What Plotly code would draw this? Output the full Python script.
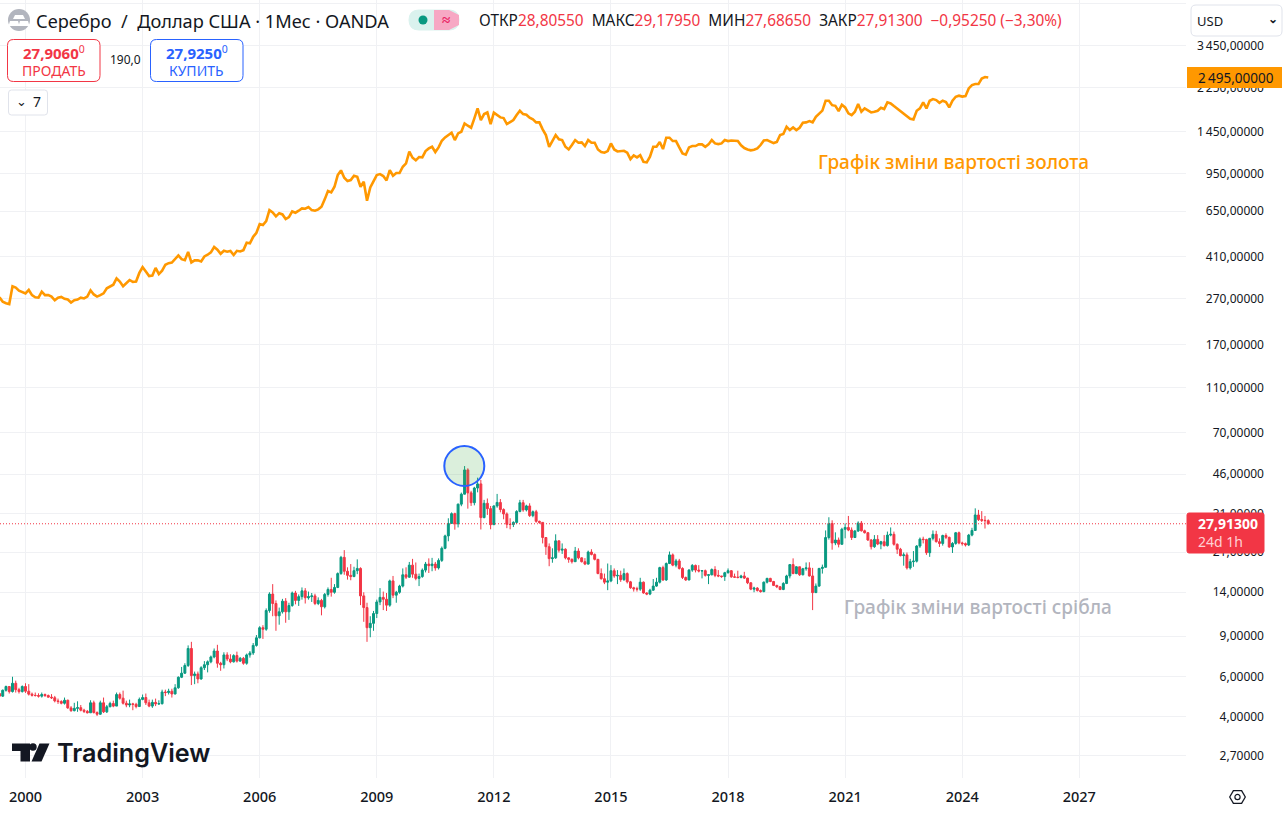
import plotly.graph_objects as go

# ---------- values (monthly bars, May 1999 - Sep 2024) ----------
silver_first_open = 5.05
silver_close = [
    4.92,5.22,5.42,5.15,5.6,5.25,5.15,5.42,
    5.17,5.02,4.96,4.95,4.92,5.0,4.95,4.87,4.84,4.69,4.66,4.58,
    4.72,4.37,4.25,4.35,4.38,4.27,4.22,4.16,4.6,4.17,4.1,4.6,
    4.2,4.42,4.57,4.45,5.0,4.82,4.58,4.5,4.55,4.53,4.43,4.76,
    4.85,4.6,4.45,4.62,4.55,4.56,5.13,5.1,5.17,5.03,5.35,5.95,
    6.2,6.7,7.95,6.05,6.15,5.85,6.55,6.75,6.95,7.3,7.75,6.85,
    6.75,7.45,7.15,6.95,7.4,7.0,7.2,6.85,7.45,7.6,8.2,8.85,
    9.8,9.65,11.65,13.75,12.5,11.05,11.5,12.8,11.5,12.25,13.9,12.9,
    13.4,14.2,13.25,13.4,13.5,12.5,12.9,12.1,13.7,14.4,14.0,14.7,
    16.9,19.9,17.3,16.6,16.4,17.4,17.8,13.5,12.0,9.8,10.24,11.3,
    12.7,13.3,13.05,12.3,15.7,13.6,14.0,14.9,16.7,16.3,18.4,16.8,
    16.1,16.4,17.5,18.6,18.3,18.6,17.9,19.3,21.8,24.7,28.0,30.9,
    27.9,34.0,37.6,48.0,38.1,34.5,40.0,41.7,29.7,34.3,32.5,27.65,
    33.4,34.6,32.2,30.8,27.75,27.7,28.3,31.6,34.5,32.1,33.4,30.3,
    31.5,28.6,28.3,24.3,22.15,19.65,19.8,23.5,21.4,21.6,19.8,19.5,
    19.05,21.2,19.8,19.05,18.6,21.0,20.5,19.5,16.9,16.05,15.5,15.7,
    17.4,16.5,16.6,15.9,16.9,15.55,14.65,14.5,14.45,15.5,13.9,13.75,
    14.3,14.9,15.5,17.95,15.85,18.7,20.4,18.4,19.2,17.8,16.25,15.85,
    17.5,18.35,17.5,17.35,17.4,16.6,16.7,17.6,16.6,16.5,16.4,17.05,
    17.4,16.35,16.3,16.25,16.5,16.15,15.4,14.45,14.6,14.25,14.1,15.5,
    16.1,15.6,15.0,14.8,14.4,15.3,16.5,18.5,16.9,18.1,16.7,17.75,
    17.9,16.5,13.95,14.9,17.8,18.0,24.3,28.0,23.0,23.7,22.7,26.4,
    26.9,26.2,24.3,25.95,28.1,26.0,25.5,23.7,22.15,23.85,22.75,23.3,
    22.4,24.9,25.1,22.7,21.6,20.25,20.4,17.9,19.05,19.15,22.3,23.9,
    23.8,20.85,24.1,25.1,23.3,22.9,24.8,24.35,22.1,22.9,25.5,23.0,
    22.85,22.55,24.9,26.1,30.5,29.1,28.9,28.8055,27.913,
]
silver_high = [
    5.1,5.26,5.47,5.45,5.98,5.75,5.35,5.48,
    5.6,5.55,5.1,5.1,5.06,5.1,5.05,5.0,5.02,4.93,4.8,4.72,
    4.85,4.75,4.45,4.6,4.67,4.5,4.33,4.28,4.72,4.7,4.22,4.7,
    4.85,4.5,4.65,4.7,5.1,5.1,5.2,4.7,4.75,4.6,4.6,4.85,
    5.0,5.05,4.75,4.75,4.8,4.72,5.25,5.25,5.3,5.3,5.55,6.0,
    6.6,6.85,8.2,8.5,6.3,6.3,6.65,7.0,7.05,7.4,7.95,8.25,
    6.95,7.65,7.65,7.5,7.5,7.7,7.3,7.3,7.55,7.75,8.4,9.1,
    9.95,10.05,11.9,14.0,15.2,12.9,12.0,13.1,13.2,12.6,14.1,14.2,
    13.7,14.7,14.6,14.1,13.9,13.8,13.3,13.1,13.9,14.7,16.2,15.2,
    17.1,20.2,21.4,18.0,18.6,18.1,19.5,18.0,14.0,12.6,11.0,11.6,
    13.0,14.6,14.1,13.9,15.9,16.5,14.2,15.1,17.8,18.0,19.0,19.6,
    18.9,16.9,17.8,19.0,19.7,19.8,19.0,19.7,22.2,25.0,29.5,31.3,
    31.2,34.2,38.2,49.9,48.8,38.9,40.5,44.4,43.4,35.5,36.0,33.4,
    33.6,37.7,35.8,32.6,31.3,29.5,28.6,32.0,35.5,35.5,33.8,34.3,
    31.9,32.1,28.8,28.4,24.4,22.9,21.8,25.1,23.6,22.9,21.8,19.9,
    19.7,22.1,21.8,19.9,19.75,21.3,21.6,20.7,19.6,17.8,16.9,18.7,
    18.4,17.8,17.5,17.4,17.8,17.1,15.7,14.8,14.8,16.2,15.6,14.0,
    14.5,16.0,16.2,18.1,18.3,18.9,21.1,20.7,19.6,19.6,18.0,16.4,
    17.7,18.6,18.5,18.4,17.5,17.6,16.8,17.8,18.2,17.5,16.5,17.2,
    17.8,17.5,16.9,17.4,16.7,17.2,16.2,15.5,14.8,14.75,14.4,15.6,
    16.2,16.2,15.7,15.1,14.9,15.5,16.7,18.6,19.7,18.2,18.1,17.9,
    18.9,18.95,17.9,15.3,17.9,18.5,26.1,29.8,28.9,25.6,24.3,26.8,
    28.0,30.2,26.9,26.2,28.6,28.7,26.3,25.7,23.95,24.9,24.9,23.5,
    24.9,25.8,26.9,25.8,22.9,21.9,20.9,20.9,19.6,21.2,22.5,24.3,
    24.5,24.0,24.2,26.1,26.0,24.1,25.0,25.35,24.5,23.2,25.7,25.8,
    23.3,23.1,25.2,26.8,32.6,32.1,31.7,30.2,29.1795,
]
silver_low = [
    4.88,4.88,5.15,5.05,5.1,5.1,5.05,5.1,
    5.08,4.95,4.9,4.9,4.85,4.85,4.88,4.85,4.78,4.62,4.55,4.53,
    4.52,4.33,4.2,4.22,4.2,4.22,4.15,4.13,4.15,4.13,4.03,4.08,
    4.15,4.15,4.4,4.4,4.45,4.75,4.52,4.4,4.4,4.27,4.35,4.42,
    4.72,4.5,4.4,4.37,4.45,4.5,4.52,4.92,5.0,4.85,5.0,5.3,
    5.9,6.15,6.6,5.5,5.55,5.6,5.8,6.4,6.25,6.85,7.2,6.55,
    6.35,6.5,7.0,6.85,6.9,6.9,6.95,6.75,6.75,7.25,7.45,8.1,
    8.8,8.75,9.5,11.4,11.0,9.5,10.1,11.3,10.3,10.6,12.1,12.4,
    12.2,13.0,12.5,13.0,12.7,12.3,12.3,11.1,11.9,13.4,13.4,13.8,
    14.6,16.7,16.7,15.9,15.8,16.3,16.8,12.3,10.4,8.5,8.9,9.5,
    10.8,12.3,11.7,11.6,12.1,13.2,12.6,13.8,14.7,16.0,16.2,16.2,
    15.8,14.9,16.2,17.1,17.0,17.3,17.4,17.6,19.0,21.6,23.4,28.0,
    26.3,26.9,33.3,37.5,32.5,33.4,33.6,38.3,26.35,29.5,30.5,26.4,
    27.6,32.8,31.3,29.2,26.7,26.4,27.0,27.9,31.3,31.5,31.6,29.9,
    29.8,28.2,27.9,22.9,20.4,18.2,18.85,19.6,20.9,20.6,19.5,18.85,
    18.7,19.0,19.5,18.9,18.4,18.5,20.3,19.3,16.8,15.9,15.2,14.3,
    15.5,16.2,15.2,15.55,15.7,15.3,14.5,14.1,14.1,14.2,13.8,13.6,
    13.6,14.2,14.8,15.3,15.7,15.7,18.6,18.2,18.0,17.6,16.0,15.7,
    15.8,17.2,17.1,17.1,16.1,16.4,15.2,16.6,16.3,16.3,16.2,15.7,
    16.9,16.2,16.2,16.1,16.1,16.0,15.2,14.3,14.0,14.1,13.95,14.0,
    15.3,15.5,14.9,14.6,14.3,14.3,15.2,16.1,16.8,16.8,16.5,16.6,
    17.4,16.4,11.7,13.9,14.8,16.9,18.0,23.8,21.5,22.5,22.0,22.6,
    24.1,25.9,23.7,24.2,25.7,25.8,25.3,23.5,21.55,21.9,22.5,21.6,
    22.2,22.2,24.6,22.4,20.6,20.1,18.3,17.6,17.6,18.1,18.9,21.9,
    22.9,20.4,20.0,23.6,23.1,22.1,22.4,23.9,21.9,20.8,22.6,22.7,
    22.4,22.2,22.3,24.6,26.0,28.7,28.4,26.6,27.6865,
]
gold_close = [
    273,261,257,255,305,301,292,289,
    284,294,279,273,272,289,279,279,275,265,272,274,
    269,267,259,265,267,272,270,275,293,281,275,279,
    284,299,304,310,330,320,305,315,325,319,320,349,
    370,354,338,340,367,345,357,379,385,387,400,416,
    401,397,431,388,396,396,392,412,419,429,453,441,
    423,436,432,435,418,436,433,439,473,470,502,523,
    571,565,588,657,642,617,637,629,600,612,648,640,
    653,668,666,677,657,653,662,680,732,796,785,831,
    935,980,910,880,889,929,919,831,874,722,826,874,
    935,944,926,886,983,929,954,954,1017,1051,1183,1113,
    1084,1121,1117,1190,1223,1243,1179,1235,1321,1366,1399,1432,
    1330,1423,1446,1573,1537,1506,1655,1829,1627,1728,1757,1563,
    1751,1711,1671,1660,1563,1594,1627,1711,1787,1728,1717,1665,
    1638,1589,1589,1481,1399,1243,1317,1399,1339,1330,1243,1210,
    1265,1330,1295,1299,1252,1330,1295,1295,1210,1179,1171,1190,
    1286,1210,1186,1190,1194,1171,1098,1139,1117,1143,1069,1062,
    1125,1243,1243,1304,1215,1362,1362,1317,1317,1235,1163,1148,
    1235,1252,1252,1273,1273,1243,1273,1330,1286,1277,1286,1330,
    1317,1325,1325,1317,1261,1227,1210,1199,1206,1223,1265,1325,
    1330,1308,1290,1304,1399,1413,1521,1471,1511,1471,1506,1584,
    1589,1609,1590,1680,1730,1790,1975,1975,1890,1878,1780,1898,
    1848,1740,1711,1769,1911,1769,1829,1800,1757,1769,1787,1841,
    1818,1944,1924,1873,1823,1787,1740,1682,1649,1638,1787,1829,
    1944,1829,1976,2009,1990,1936,1976,1950,1848,1976,2057,2079,
    2060,2070,2238,2314,2338,2338,2473,2510,2495,
]
first_month = -8   # bars are counted from January 2000
year_labels = ["2000","2003","2006","2009","2012","2015","2018","2021","2024","2027"]
year_positions = [0,36,72,108,144,180,216,252,288,324]
price_ticks = [5250,3450,2250,1450,950,650,410,270,170,110,70,46,31,21,14,9,6,4,2.7]
F = "\u2007"; T = "\u2009"
price_labels = ["\u2007", f"3{T}450,00000", f"2{T}250,00000", f"1{T}450,00000",
    F+T+"950,00000", F+T+"650,00000", F+T+"410,00000", F+T+"270,00000", F+T+"170,00000", F+T+"110,00000",
    F+F+T+"70,00000", F+F+T+"46,00000", F+F+T+"31,00000", F+F+T+"21,00000", F+F+T+"14,00000",
    F+F+F+T+"9,00000", F+F+F+T+"6,00000", F+F+F+T+"4,00000", F+F+F+T+"2,70000"]

assert len(silver_close) == len(silver_high) == len(silver_low) == len(gold_close)
months = list(range(first_month, first_month + len(silver_close)))
silver_open = [silver_first_open] + silver_close[:-1]

GREEN, RED, BLUE, ORANGE = "#089981", "#f23645", "#2962ff", "#ff9800"
INK, GRID, GREY = "#131722", "#f0f1f4", "#b2b5be"
FONT = "Noto Sans"
PW, PH = 1186.0, 778.0      # plot area in page pixels

def X(px): return px / PW
def Y(py): return 1 - py / PH

fig = go.Figure()
fig.add_trace(go.Candlestick(
    x=months, open=silver_open, high=silver_high, low=silver_low, close=silver_close,
    increasing=dict(line=dict(color=GREEN, width=1), fillcolor=GREEN),
    decreasing=dict(line=dict(color=RED, width=1), fillcolor=RED),
    whiskerwidth=0, showlegend=False, name="Серебро / Доллар США"))
fig.add_trace(go.Scatter(
    x=months, y=gold_close, mode="lines", showlegend=False, name="Золото",
    line=dict(color=ORANGE, width=2.6, shape="linear")))

shapes, anns = [], []

def rrect(x0, y0, x1, y1, r, line=None, fill="white", lw=1):
    p = (f"M {X(x0+r)} {Y(y0)} L {X(x1-r)} {Y(y0)} Q {X(x1)} {Y(y0)} {X(x1)} {Y(y0+r)} "
         f"L {X(x1)} {Y(y1-r)} Q {X(x1)} {Y(y1)} {X(x1-r)} {Y(y1)} L {X(x0+r)} {Y(y1)} "
         f"Q {X(x0)} {Y(y1)} {X(x0)} {Y(y1-r)} L {X(x0)} {Y(y0+r)} Q {X(x0)} {Y(y0)} {X(x0+r)} {Y(y0)} Z")
    shapes.append(dict(type="path", xref="paper", yref="paper", path=p, fillcolor=fill,
                       line=dict(color=line or fill, width=lw), layer="above"))

def poly(pts, fill):
    p = "M " + " L ".join(f"{X(a)} {Y(b)}" for a, b in pts) + " Z"
    shapes.append(dict(type="path", xref="paper", yref="paper", path=p, fillcolor=fill,
                       line=dict(width=0), layer="above"))

def circle(cx, cy, r, fill, line=None, lw=0):
    shapes.append(dict(type="circle", xref="paper", yref="paper",
                       x0=X(cx-r), x1=X(cx+r), y0=Y(cy+r), y1=Y(cy-r), fillcolor=fill,
                       line=dict(color=line or fill, width=lw), layer="above"))

def text(px, py, s, size, color=INK, anchor="left", weight=400, font=FONT):
    anns.append(dict(xref="paper", yref="paper", x=X(px), y=Y(py), text=s, showarrow=False,
                     xanchor=anchor, yanchor="middle", borderpad=0, borderwidth=0,
                     font=dict(family=font, size=size, color=color, weight=weight)))

# last-price line, taken from the data
shapes.append(dict(type="line", xref="paper", yref="y", x0=0, x1=1,
                   y0=silver_close[-1], y1=silver_close[-1],
                   line=dict(color=RED, width=1, dash="1px,2px"), layer="above"))
# drawing on the peak
circle(464.3, 466, 20, "rgba(76,175,80,0.20)", BLUE, 2)

# price labels on the scale
poly([(1187,67),(1282,67),(1282,88),(1187,88)], ORANGE)
text(1198, 77.5, f"2{T}495,00000", 13.5, INK)
rrect(1187, 513, 1264, 553, 2, RED, RED)
text(1198, 523.5, "27,91300", 14, "white", weight=700)
text(1198, 541.5, "24d 1h", 14, "#ffd0d4")

# header
circle(19, 20, 11, GREY)
poly([(15,15),(23,15),(25,19),(13,19)], "white")
poly([(10,21),(18,21),(19.5,26),(8.5,26)], "white")
poly([(20,21),(28,21),(29.5,26),(18.5,26)], "white")
text(36, 21, "Серебро  /  Доллар США · 1Мес · OANDA", 18.2, INK)
rrect(409, 10, 459, 30, 10, "#daf2ee", "#daf2ee")
poly([(434,10),(449,10),(459,15),(459,25),(449,30),(434,30)], "#f7a8c4")
circle(423, 20, 4.5, GREEN)
text(446, 19, "≈", 15, "#e91e63", "center", 700)
hdr = ("ОТКР<span style='color:#f23645'>28,80550</span>  МАКС<span style='color:#f23645'>29,17950</span>"
       "  МИН<span style='color:#f23645'>27,68650</span>  ЗАКР<span style='color:#f23645'>27,91300</span>"
       "  <span style='color:#f23645'>−0,95250 (−3,30%)</span>")
text(479, 20, hdr, 15.4, INK)

# trade buttons
rrect(7.5, 39.5, 100, 81.5, 6, RED)
text(53.5, 53, "<b>27,9060</b><sup>0</sup>", 15, RED, "center")
text(53.5, 70, "ПРОДАТЬ", 14, RED, "center")
text(125.5, 60, "190,0", 12, INK, "center")
rrect(150.5, 39.5, 243, 81.5, 6, BLUE)
text(196.5, 53, "<b>27,9250</b><sup>0</sup>", 15, BLUE, "center")
text(196.5, 70, "КУПИТЬ", 14, BLUE, "center")
rrect(8.5, 90, 47.5, 115, 3, "#e0e3eb")
text(16, 101, "⌄", 13, INK, "left")
text(36.5, 102, "7", 14, INK, "center")
rrect(1191, 5, 1282, 36, 5, "#e0e3eb")
text(1197, 21, "USD", 13, INK)
text(1273, 19, "⌄", 12, INK, "center", 700)

# on-chart labels
text(818, 162, "Графік зміни вартості золота", 19, ORANGE, weight=500)
text(844, 607, "Графік зміни вартості срібла", 19, GREY, weight=500)

# TradingView mark
poly([(12,743.5),(30,743.5),(30,761.5),(20.5,761.5),(20.5,751),(12,751)], INK)
circle(33, 747, 3.7, INK)
poly([(39.5,743.5),(49.5,743.5),(41.5,761.5),(31.5,761.5)], INK)
text(57, 753, "TradingView", 25.2, INK, weight=600, font="Inter")

# settings hexagon at the bottom of the scale
poly([(1233,790),(1242,790),(1246,797),(1242,804),(1233,804),(1229,797)], INK)
poly([(1233.8,791.3),(1241.2,791.3),(1244.6,797),(1241.2,802.7),(1233.8,802.7),(1230.4,797)], "white")
circle(1237.5, 797, 2.6, "white", INK, 1.2)

fig.update_layout(
    width=1288, height=814, autosize=False,
    margin=dict(l=0, r=1288-PW, t=0, b=814-PH, pad=0),
    paper_bgcolor="white", plot_bgcolor="white",
    font=dict(family=FONT, color=INK), showlegend=False, hovermode=False,
    boxgap=0.15,
    shapes=shapes, annotations=anns,
    xaxis=dict(range=[-7.84, 356.8], rangeslider=dict(visible=False), tickmode="array",
               tickvals=year_positions, ticktext=year_labels, showgrid=True, gridcolor=GRID, gridwidth=1,
               zeroline=False, showline=False, ticks="", ticklabelstandoff=8,
               tickangle=0, tickfont=dict(family=FONT, size=14.5, color=INK, weight=500), fixedrange=True),
    yaxis=dict(type="log", side="right", range=[0.3339, 3.7364], tickmode="array",
               tickvals=price_ticks, ticktext=price_labels, showgrid=True, gridcolor=GRID, gridwidth=1,
               zeroline=False, showline=False, ticks="", ticklabelstandoff=10,
               tickfont=dict(family=FONT, size=12, color=INK), fixedrange=True),
)
fig.write_html("out.html", config=dict(displayModeBar=False),
               post_script="document.body.style.margin='0';document.documentElement.style.overflow='hidden';")
